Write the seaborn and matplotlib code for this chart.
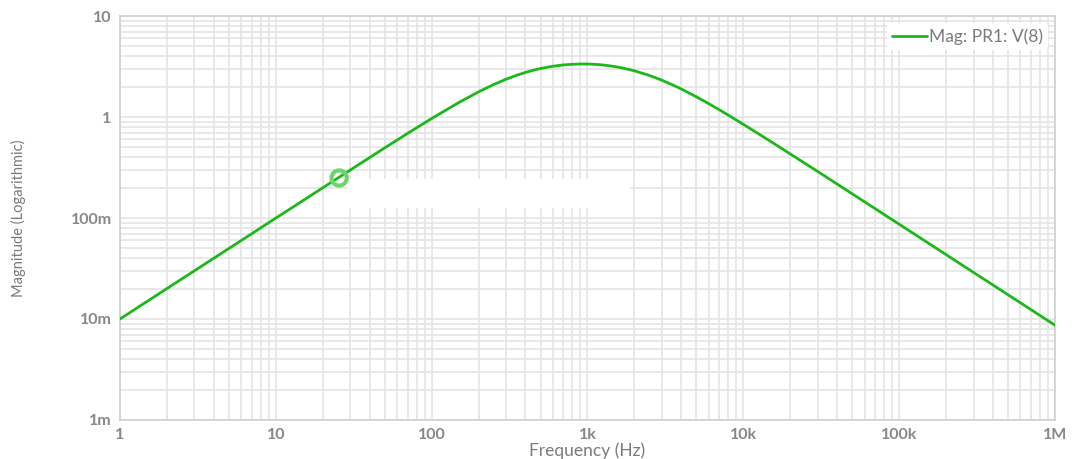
import matplotlib
matplotlib.use("Agg")
import matplotlib.pyplot as plt
from matplotlib.patches import Rectangle
from matplotlib.ticker import FixedLocator, FixedFormatter, LogLocator, NullFormatter
import seaborn as sns
import pandas as pd

# Magnitude response of probe PR1 at node V(8)
freq_hz = [1, 2, 5, 10, 20, 30, 50, 70, 100, 150, 200, 250, 300, 350, 400, 450,
           500, 600, 700, 800, 900, 1000, 1100, 1200, 1300, 1500, 1700, 2000,
           2500, 3000, 3500, 4000, 5000, 6000, 7000, 8500, 10000, 15000, 20000,
           30000, 50000, 100000, 200000, 500000, 1000000]
magnitude = [0.0100, 0.0200, 0.0499, 0.0997, 0.199, 0.298, 0.495, 0.687, 0.966,
             1.396, 1.774, 2.096, 2.364, 2.585, 2.763, 2.907, 3.022, 3.183, 3.279,
             3.329, 3.349, 3.346, 3.327, 3.295, 3.255, 3.157, 3.045, 2.868,
             2.577, 2.315, 2.088, 1.894, 1.585, 1.356, 1.182, 0.988, 0.847,
             0.5725, 0.431, 0.289, 0.1735, 0.0868, 0.0434, 0.01736, 0.00868]

# Cursor marker on the trace
cursor_freq = [25.5]
cursor_mag = [0.249]

x_ticks = [1, 10, 100, 1e3, 1e4, 1e5, 1e6]
x_tick_labels = ["1", "10", "100", "1k", "10k", "100k", "1M"]
y_ticks = [1e-3, 1e-2, 1e-1, 1, 10]
y_tick_labels = ["1m", "10m", "100m", "1", "10"]

series_name = "Mag: PR1: V(8)"
df = pd.DataFrame({"Frequency": freq_hz, "Magnitude": magnitude})

sns.set_theme(style="white")
plt.rcParams["font.family"] = ["Lato", "DejaVu Sans"]

text_gray = "#7a7a7a"
grid_gray = "#e4e4e4"
trace_green = "#1bb81b"

fig = plt.figure(figsize=(10.74, 4.59), dpi=100)
ax = fig.add_axes([0.1117, 0.085, 0.8706, 0.8801])

sns.lineplot(data=df, x="Frequency", y="Magnitude", ax=ax, color=trace_green,
             linewidth=2.0, label=series_name, zorder=3)

ax.set_xscale("log")
ax.set_yscale("log")
ax.set_xlim(1, 1e6)
ax.set_ylim(1e-3, 10)

ax.xaxis.set_major_locator(FixedLocator(x_ticks))
ax.xaxis.set_major_formatter(FixedFormatter(x_tick_labels))
ax.yaxis.set_major_locator(FixedLocator(y_ticks))
ax.yaxis.set_major_formatter(FixedFormatter(y_tick_labels))
ax.xaxis.set_minor_locator(LogLocator(base=10, subs=range(2, 10), numticks=100))
ax.yaxis.set_minor_locator(LogLocator(base=10, subs=range(2, 10), numticks=100))
ax.xaxis.set_minor_formatter(NullFormatter())
ax.yaxis.set_minor_formatter(NullFormatter())

ax.grid(True, which="both", color=grid_gray, linewidth=1.2)
ax.set_axisbelow(True)
for spine in ax.spines.values():
    spine.set_color("#cfcfcf")
    spine.set_linewidth(1.2)

ax.tick_params(axis="both", which="both", length=0, colors=text_gray,
               labelsize=11.5)
ax.tick_params(axis="x", pad=6)
ax.tick_params(axis="y", pad=6)
for lab in ax.get_xticklabels() + ax.get_yticklabels():
    lab.set_fontweight("bold")
    lab.set_color("#888888")

ax.set_xlabel("Frequency (Hz)", color=text_gray, fontsize=12.5, labelpad=0)
ax.set_ylabel("Magnitude (Logarithmic)", color=text_gray, fontsize=10.5, labelpad=32)

# Blank readout panel next to the cursor
ax.add_patch(Rectangle((0.243, 0.525), 0.302, 0.072, transform=ax.transAxes,
                       facecolor="white", edgecolor="none", zorder=2.5))

# Cursor ring
ax.scatter(cursor_freq, cursor_mag, s=120, facecolors="none",
           edgecolors="#6fd36f", linewidths=3, zorder=4)

leg = ax.legend(loc="upper right", frameon=True, fontsize=12.5, handlelength=2.0,
                handletextpad=0.1, borderaxespad=0.4, borderpad=0.3)
leg.get_frame().set_edgecolor("none")
leg.get_frame().set_facecolor("white")
leg.get_frame().set_alpha(1)
for t in leg.get_texts():
    t.set_color(text_gray)

fig.savefig("out.png", dpi=100, facecolor="white")
